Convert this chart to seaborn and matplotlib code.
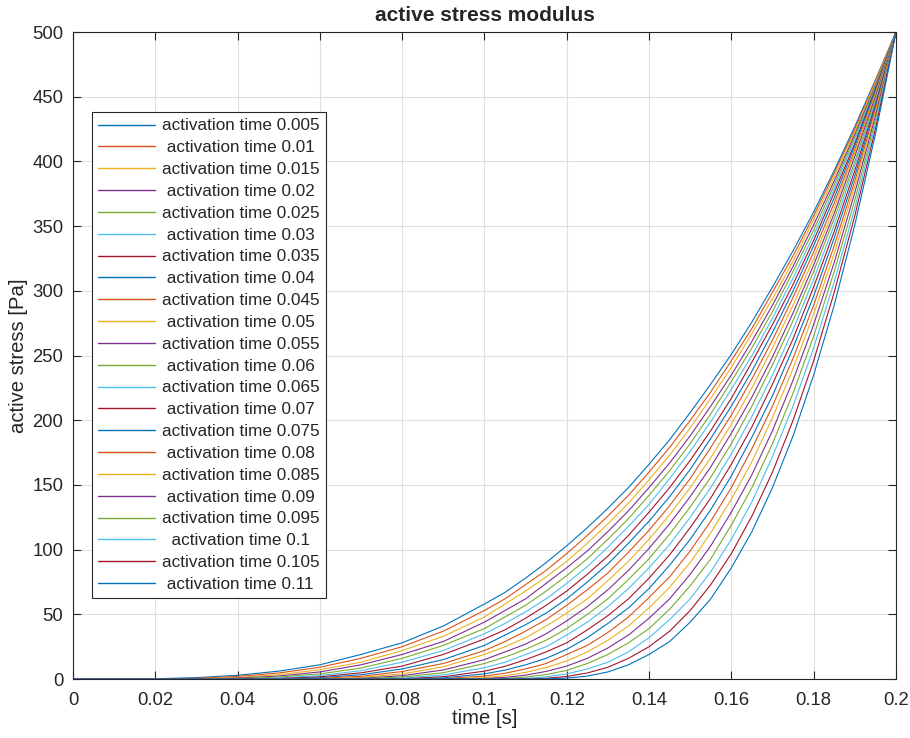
import pandas as pd
import matplotlib
matplotlib.use("Agg")
import matplotlib.pyplot as plt
from matplotlib.lines import Line2D
import seaborn as sns

# Sample times [s] shared by every curve
time_s = [0, 0.01, 0.02, 0.03, 0.04, 0.05, 0.06, 0.07, 0.08, 0.09, 0.1,
          0.105, 0.11, 0.115, 0.12, 0.125, 0.13, 0.135, 0.14, 0.145, 0.15,
          0.155, 0.16, 0.165, 0.17, 0.175, 0.18, 0.185, 0.19, 0.195, 0.2]

activation_times = [0.005, 0.01, 0.015, 0.02, 0.025, 0.03, 0.035, 0.04, 0.045,
                    0.05, 0.055, 0.06, 0.065, 0.07, 0.075, 0.08, 0.085, 0.09,
                    0.095, 0.1, 0.105, 0.11]

# Active stress [Pa] for each activation time
stress_t005 = [0, 0.0, 0.2, 1.1, 2.9, 6.1, 11, 19, 28, 41, 58, 67, 78, 90, 103, 117, 132, 148, 166, 185, 206, 228, 251, 276, 303, 331, 361, 393, 427, 463, 500]
stress_t010 = [0, 0, 0.1, 0.6, 2.0, 4.7, 9.1, 16, 25, 37, 53, 62, 73, 84, 97, 111, 126, 142, 160, 179, 200, 222, 246, 271, 299, 327, 358, 391, 425, 462, 500]
stress_t015 = [0, 0, 0, 0.3, 1.2, 3.4, 7.2, 13, 22, 33, 48, 58, 68, 79, 91, 105, 120, 136, 154, 173, 194, 217, 241, 267, 294, 323, 355, 388, 423, 461, 500]
stress_t020 = [0, 0, 0, 0.1, 0.7, 2.3, 5.5, 11, 19, 29, 44, 53, 62, 74, 86, 99, 114, 130, 148, 167, 188, 211, 235, 261, 289, 319, 351, 385, 421, 459, 500]
stress_t025 = [0, 0, 0, 0, 0.3, 1.5, 4.0, 8.5, 16, 26, 39, 48, 57, 68, 80, 93, 108, 124, 142, 161, 182, 205, 230, 256, 284, 315, 347, 382, 419, 458, 500]
stress_t030 = [0, 0, 0, 0, 0.1, 0.8, 2.7, 6.5, 13, 22, 35, 43, 52, 62, 74, 87, 102, 118, 135, 155, 176, 199, 224, 250, 279, 310, 343, 379, 417, 457, 500]
stress_t035 = [0, 0, 0, 0, 0, 0.4, 1.7, 4.8, 10, 19, 31, 38, 47, 57, 68, 81, 95, 111, 129, 148, 169, 192, 217, 245, 274, 305, 339, 376, 414, 456, 500]
stress_t040 = [0, 0, 0, 0, 0, 0.1, 1.0, 3.3, 7.8, 15, 26, 34, 42, 51, 62, 75, 89, 105, 122, 141, 162, 186, 211, 238, 268, 300, 335, 372, 412, 455, 500]
stress_t045 = [0, 0, 0, 0, 0, 0, 0.5, 2.1, 5.8, 12, 22, 29, 37, 46, 57, 69, 82, 98, 115, 134, 155, 179, 204, 232, 262, 295, 330, 368, 409, 453, 500]
stress_t050 = [0, 0, 0, 0, 0, 0, 0.1, 1.2, 4.0, 9.5, 19, 25, 32, 41, 51, 62, 76, 91, 108, 127, 148, 171, 197, 225, 256, 289, 325, 364, 407, 452, 500]
stress_t055 = [0, 0, 0, 0, 0, 0, 0, 0.6, 2.6, 7.0, 15, 21, 27, 35, 45, 56, 69, 84, 101, 120, 141, 164, 190, 218, 249, 283, 320, 360, 404, 450, 500]
stress_t060 = [0, 0, 0, 0, 0, 0, 0, 0.2, 1.5, 4.9, 12, 17, 23, 30, 39, 50, 62, 77, 93, 112, 133, 156, 182, 211, 243, 277, 315, 356, 400, 448, 500]
stress_t065 = [0, 0, 0, 0, 0, 0, 0, 0, 0.7, 3.2, 8.7, 13, 19, 25, 34, 44, 56, 70, 86, 104, 125, 148, 174, 203, 235, 270, 309, 351, 397, 446, 500]
stress_t070 = [0, 0, 0, 0, 0, 0, 0, 0, 0.2, 1.8, 6.1, 9.8, 15, 21, 28, 38, 49, 62, 78, 96, 117, 140, 166, 195, 228, 263, 303, 346, 393, 444, 500]
stress_t075 = [0, 0, 0, 0, 0, 0, 0, 0, 0, 0.9, 4.0, 6.9, 11, 16, 23, 32, 43, 55, 70, 88, 108, 131, 157, 187, 219, 256, 296, 341, 389, 442, 500]
stress_t080 = [0, 0, 0, 0, 0, 0, 0, 0, 0, 0.3, 2.3, 4.5, 7.8, 12, 19, 26, 36, 48, 63, 79, 99, 122, 148, 178, 211, 248, 289, 335, 385, 440, 500]
stress_t085 = [0, 0, 0, 0, 0, 0, 0, 0, 0, 0.0, 1.1, 2.6, 5.1, 8.9, 14, 21, 30, 41, 55, 71, 90, 113, 139, 168, 202, 240, 282, 329, 381, 438, 500]
stress_t090 = [0, 0, 0, 0, 0, 0, 0, 0, 0, 0, 0.4, 1.3, 3.0, 5.9, 10, 16, 24, 34, 47, 62, 81, 103, 129, 158, 192, 231, 274, 322, 376, 435, 500]
stress_t095 = [0, 0, 0, 0, 0, 0, 0, 0, 0, 0, 0.1, 0.4, 1.5, 3.5, 6.7, 12, 19, 28, 39, 54, 72, 93, 119, 148, 182, 221, 265, 315, 370, 432, 500]
stress_t100 = [0, 0, 0, 0, 0, 0, 0, 0, 0, 0, 0, 0.1, 0.5, 1.7, 4.0, 7.8, 13, 21, 32, 46, 62, 83, 108, 137, 172, 211, 256, 307, 364, 429, 500]
stress_t105 = [0, 0, 0, 0, 0, 0, 0, 0, 0, 0, 0, 0, 0.1, 0.6, 2.0, 4.7, 9.1, 16, 25, 37, 53, 73, 97, 126, 160, 200, 246, 299, 358, 425, 500]
stress_t110 = [0, 0, 0, 0, 0, 0, 0, 0, 0, 0, 0, 0, 0, 0.1, 0.7, 2.3, 5.5, 11, 19, 29, 44, 62, 86, 114, 148, 188, 235, 289, 351, 421, 500]

curves = [stress_t005, stress_t010, stress_t015, stress_t020, stress_t025,
          stress_t030, stress_t035, stress_t040, stress_t045, stress_t050,
          stress_t055, stress_t060, stress_t065, stress_t070, stress_t075,
          stress_t080, stress_t085, stress_t090, stress_t095, stress_t100,
          stress_t105, stress_t110]

xticks = [0, 0.02, 0.04, 0.06, 0.08, 0.1, 0.12, 0.14, 0.16, 0.18, 0.2]
yticks = [0, 50, 100, 150, 200, 250, 300, 350, 400, 450, 500]

sns.set_style("ticks")
plt.rcParams["font.family"] = ["Liberation Sans", "DejaVu Sans"]

# MATLAB default line colour order
matlab_colors = ["#0072BD", "#D95319", "#EDB120", "#7E2F8E",
                 "#77AC30", "#4DBEEE", "#A2142F"]
ink = "#262626"

# Long-form table; shorter labels get leading spaces so the text sits centred
labels = []
records = []
longest = max(len(f"{ta:g}") for ta in activation_times)
for ta, vals in zip(activation_times, curves):
    lab = " " * (longest - len(f"{ta:g}")) + f"activation time {ta:g}"
    labels.append(lab)
    for t, v in zip(time_s, vals):
        records.append({"time": t, "stress": v, "label": lab})
df = pd.DataFrame(records)

fig = plt.figure(figsize=(9.1, 7.38), dpi=100)
ax = fig.add_axes([0.0802, 0.0799, 0.9044, 0.8767])
palette = [matlab_colors[i % len(matlab_colors)] for i in range(len(labels))]
lw = 0.8
sns.lineplot(data=df, x="time", y="stress", hue="label", hue_order=labels,
             palette=palette, estimator=None, sort=False, linewidth=lw,
             legend=False, ax=ax)

ax.set_xlim(0, 0.2)
ax.set_ylim(0, 500)
ax.set_xticks(xticks)
ax.set_xticklabels([f"{v:g}" for v in xticks])
ax.set_yticks(yticks)
ax.grid(True, color="#dfdfdf", linewidth=0.8)
ax.set_axisbelow(True)
for s in ax.spines.values():
    s.set_visible(True)
    s.set_color(ink)
    s.set_linewidth(0.8)
ax.tick_params(direction="in", length=6, width=0.8, top=True, right=True,
               colors=ink, labelsize=13.3)
ax.tick_params(axis="x", pad=9)
ax.tick_params(axis="y", pad=7)
ax.set_xlabel("time [s]", fontsize=14.6, color=ink, labelpad=0)
ax.set_ylabel("active stress [Pa]", fontsize=14.6, color=ink, labelpad=3)
ax.set_title("active stress modulus", fontsize=15, fontweight="bold", pad=8)

handles = [Line2D([], [], color=c, linewidth=1.0) for c in palette]
leg = ax.legend(handles, labels, loc="upper left", bbox_to_anchor=(0.0231, 0.8764),
                borderaxespad=0, fontsize=12.3, labelspacing=0.40, borderpad=0.38,
                handlelength=3.3, handletextpad=0.4, fancybox=False, framealpha=1,
                edgecolor=ink)
leg.get_frame().set_linewidth(0.8)

fig.savefig("out.png", dpi=100)
